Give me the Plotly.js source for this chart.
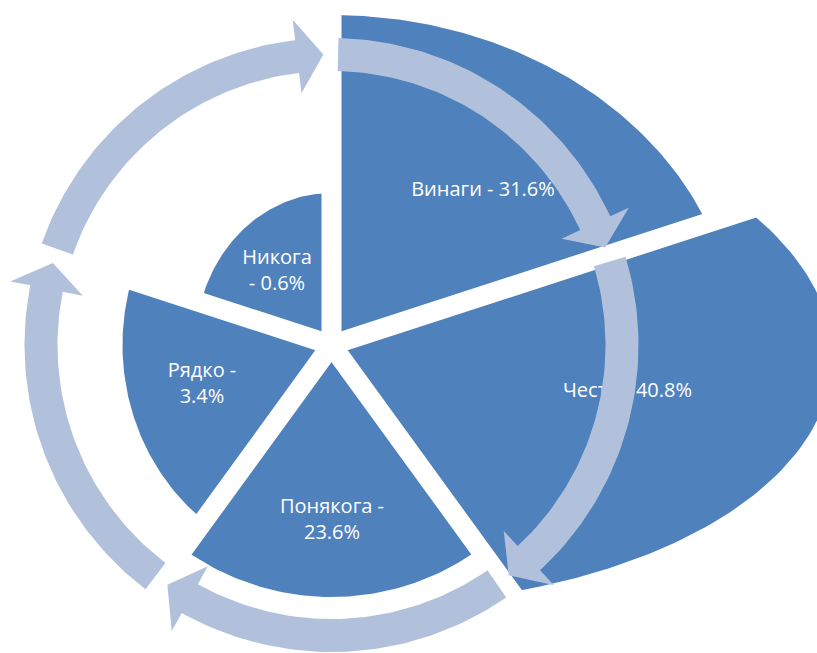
<!DOCTYPE html>
<html>
<head>
<meta charset="utf-8">
<script src="https://cdn.plot.ly/plotly-3.0.1.min.js"></script>
<style>
html,body{margin:0;padding:0;background:#ffffff;overflow:hidden;}
#chart{width:817px;height:653px;}
</style>
</head>
<body>
<div id="chart"></div>
<script>
// ---- data ----
const categories = ['Винаги', 'Често', 'Понякога', 'Рядко', 'Никога'];
const percents = [31.6, 40.8, 23.6, 3.4, 0.6];
// sector extents (horizontal / vertical half-axes and tilt of each slice outline)
const sectorRx = [404, 501, 252, 209, 136];
const sectorRy = [330, 260, 252, 222, 152];
const sectorTilt = [0, -1.9, 0, 0, 0];
// how each label wraps
const labelJoin = [' - ', ' - ', ' -<br>', ' -<br>', '<br>- '];

// ---- layout constants ----
const W = 817, H = 653;
const CX = 331.5, CY = 345;          // pixel centre of the figure
const SECTOR_COLOR = '#4f81bd';
const ARROW_COLOR = '#b1c1dc';
const GAP = 20;
const labelPos = [[151.5, 154], [296, -47], [0.5, -175.5], [-129.5, -39.5], [-54.5, 73]];
const ring = {r: 290.5, shaft: 16.5, head: 37, startOff: -1.3, tipOff: -70.4, headLen: 5.2};

const n = categories.length;
const step = 360 / n;
const d2r = Math.PI / 180;

function ellipseR(phiDeg, rx, ry, tiltDeg) {
  const a = (phiDeg - tiltDeg) * d2r;
  const c = Math.cos(a) / rx, s = Math.sin(a) / ry;
  return 1 / Math.sqrt(c * c + s * s);
}
function pt(angDeg, r) { return [r * Math.cos(angDeg * d2r), r * Math.sin(angDeg * d2r)]; }

const traces = [];

// sectors
for (let i = 0; i < n; i++) {
  const a1 = 90 - i * step, a2 = 90 - (i + 1) * step;
  const xs = [0], ys = [0];
  const N = 90;
  for (let j = 0; j <= N; j++) {
    const phi = a1 - (a1 - a2) * j / N;
    const r = ellipseR(phi, sectorRx[i], sectorRy[i], sectorTilt[i]);
    const p = pt(phi, r);
    xs.push(p[0]); ys.push(p[1]);
  }
  xs.push(0); ys.push(0);
  traces.push({type: 'scatter', mode: 'lines', x: xs, y: ys, fill: 'toself',
    fillcolor: SECTOR_COLOR, line: {width: 0, color: SECTOR_COLOR}, hoverinfo: 'skip'});
}

// white separators between slices
{
  const xs = [], ys = [];
  for (let k = 0; k < n; k++) {
    const p = pt(90 - k * step, 800);
    xs.push(0, p[0], null); ys.push(0, p[1], null);
  }
  traces.push({type: 'scatter', mode: 'lines', x: xs, y: ys,
    line: {width: GAP, color: '#ffffff'}, hoverinfo: 'skip'});
}

// labels
traces.push({type: 'scatter', mode: 'text',
  x: labelPos.map(p => p[0]), y: labelPos.map(p => p[1]),
  text: categories.map((c, i) => c + labelJoin[i] + percents[i].toFixed(1) + '%'),
  textposition: 'middle center',
  textfont: {family: 'Open Sans, sans-serif', size: 20, color: '#ffffff'},
  hoverinfo: 'skip'});

// circular arrows
for (let k = 0; k < n; k++) {
  const s = 90 - k * step + ring.startOff;
  const tip = 90 - k * step + ring.tipOff;
  const b = tip + ring.headLen;
  const xs = [], ys = [];
  const N = 60;
  for (let j = 0; j <= N; j++) {
    const p = pt(s - (s - b) * j / N, ring.r + ring.shaft);
    xs.push(p[0]); ys.push(p[1]);
  }
  let p = pt(b, ring.r + ring.head); xs.push(p[0]); ys.push(p[1]);
  p = pt(tip, ring.r); xs.push(p[0]); ys.push(p[1]);
  p = pt(b, ring.r - ring.head); xs.push(p[0]); ys.push(p[1]);
  for (let j = 0; j <= N; j++) {
    const q = pt(b + (s - b) * j / N, ring.r - ring.shaft);
    xs.push(q[0]); ys.push(q[1]);
  }
  xs.push(xs[0]); ys.push(ys[0]);
  traces.push({type: 'scatter', mode: 'lines', x: xs, y: ys, fill: 'toself',
    fillcolor: ARROW_COLOR, line: {width: 0, color: ARROW_COLOR}, hoverinfo: 'skip'});
}

const layout = {
  width: W, height: H,
  margin: {l: 0, r: 0, t: 0, b: 0, pad: 0},
  paper_bgcolor: '#ffffff', plot_bgcolor: '#ffffff',
  showlegend: false, hovermode: false,
  xaxis: {range: [-CX, W - CX], visible: false, fixedrange: true, showgrid: false, zeroline: false},
  yaxis: {range: [-(H - CY), CY], visible: false, fixedrange: true, showgrid: false, zeroline: false}
};

Plotly.newPlot('chart', traces, layout, {displayModeBar: false, staticPlot: true});
</script>
</body>
</html>
